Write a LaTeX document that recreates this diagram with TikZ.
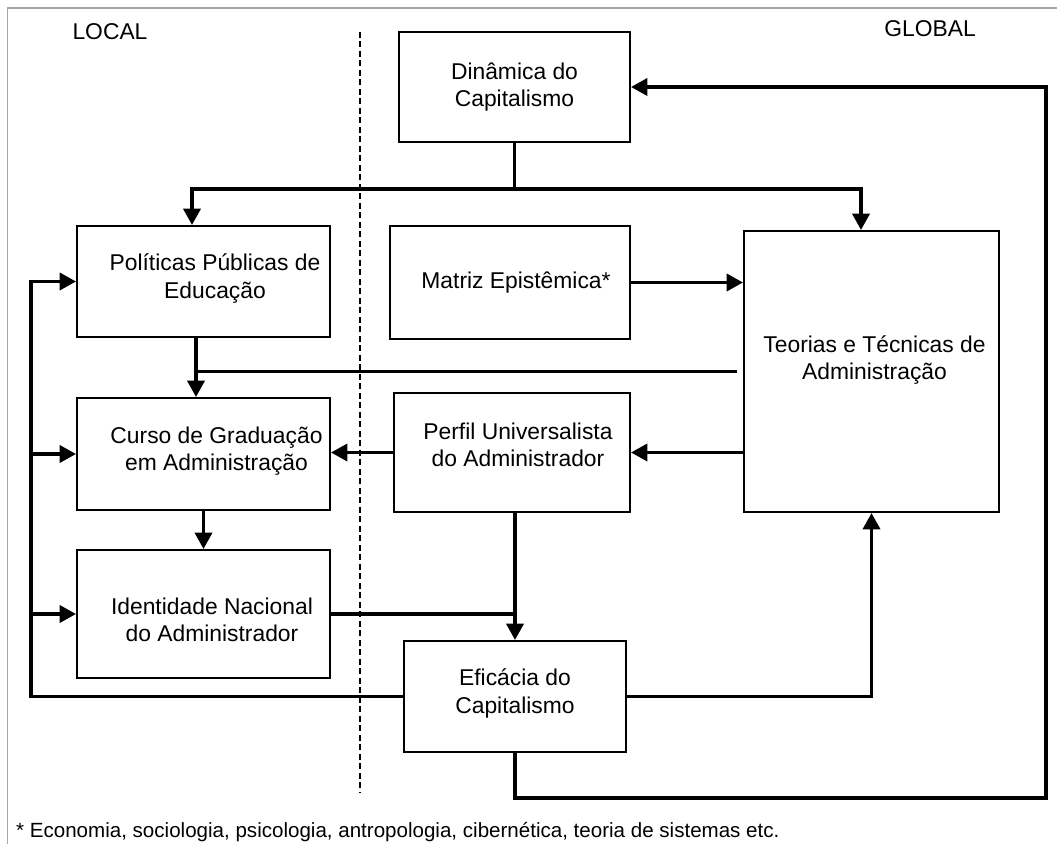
\documentclass[tikz,border=0pt]{standalone}
\usepackage{fontspec}
\setmainfont{Liberation Sans}
\usetikzlibrary{arrows.meta, positioning, calc}

\tikzset{
  %% -- boxes and their text --
  blk/box/.style={draw, line width=1.1pt, inner sep=0pt},
  blk/txt/.style={font=\fontsize{13pt}{15.5pt}\selectfont, align=center, inner sep=0pt},
  %% -- connectors --
  blk/arr/.style={-{Triangle[length=0.33cm, width=0.34cm]}, line width=2.2pt},
  blk/line/.style={line width=2.2pt},
  %% -- local / global divider --
  blk/div/.style={dash pattern=on 0.12cm off 0.07cm, line width=1.5pt},
  blk/frame/.style={draw=gray!70, line width=0.8pt},
  blk/side/.style={font=\fontsize{13pt}{15.5pt}\selectfont},
  blk/note/.style={font=\fontsize{11.7pt}{14pt}\selectfont, anchor=base west},
}

\begin{document}
\begin{tikzpicture}[x=0.02cm, y=-0.02cm]
\useasboundingbox (0,0) rectangle (1057,844);

%% Frame and sides
\draw[blk/frame] (7.5,844) -- (7.5,8) -- (1057,8);
\node[blk/side] (loc) at (110,31.5) {LOCAL};
\node[blk/side] (glo) at (930,28.5) {GLOBAL};
\coordinate (divtop) at (360,32);
\coordinate (divbot) at (360,792);
\draw[blk/div] (divtop) -- (divbot);

%% Boxes
\node[blk/box, minimum width=4.62cm, minimum height=2.2cm,
  label={[blk/txt]center:Dinâmica do\\Capitalismo}] (din) at (514.5,87) {};
\node[blk/box, minimum width=5.06cm, minimum height=2.22cm,
  label={[blk/txt, xshift=0.23cm, yshift=0.06cm]center:Políticas Públicas de\\Educação}] (pol) at (203.5,281.5) {};
\node[blk/box, minimum width=4.8cm, minimum height=2.26cm,
  label={[blk/txt, xshift=0.12cm]center:Matriz Epistêmica*}] (mat) at (510,282.5) {};
\node[blk/box, minimum width=5.1cm, minimum height=5.62cm,
  label={[blk/txt, xshift=0.06cm, yshift=0.23cm]center:Teorias e Técnicas de\\Administração}] (teo) at (871.5,371.5) {};
\node[blk/box, minimum width=5.06cm, minimum height=2.24cm,
  label={[blk/txt, xshift=0.26cm, yshift=0.05cm]center:Curso de Graduação\\em Administração}] (cur) at (203.5,454) {};
\node[blk/box, minimum width=4.72cm, minimum height=2.38cm,
  label={[blk/txt, xshift=0.12cm, yshift=0.15cm]center:Perfil Universalista\\do Administrador}] (per) at (512,452.5) {};
\node[blk/box, minimum width=5.06cm, minimum height=2.56cm,
  label={[blk/txt, xshift=0.17cm, yshift=-0.12cm]center:Identidade Nacional\\do Administrador}] (ide) at (203.5,614) {};
\node[blk/box, minimum width=4.44cm, minimum height=2.22cm,
  label={[blk/txt, yshift=0.06cm]center:Eficácia do\\Capitalismo}] (efi) at (515,696.5) {};

%% Junctions
\coordinate (jtop) at (514.5,189);
\coordinate (busx) at (31,697);
\coordinate (loopx) at (1046,798);
\coordinate (polx) at ([xshift=-0.15cm]pol.south);

%% Dinamica -> Politicas, Teorias
\draw[blk/line] (din.south) -- (jtop);
\draw[blk/arr] (jtop) -| ([xshift=-0.23cm]pol.north);
\draw[blk/arr] (jtop) -| ([xshift=-0.21cm]teo.north);

%% Matriz -> Teorias
\draw[blk/arr] (mat.east) -- (mat.east -| teo.west);

%% Politicas, Teorias -> Curso
\draw[blk/arr] (polx) -- (polx |- cur.north);
\draw[blk/line] ([xshift=-0.12cm]teo.west) -- (teo.west -| polx);

%% Teorias -> Perfil -> Curso -> Identidade
\draw[blk/arr] (per.east -| teo.west) -- (per.east);
\draw[blk/arr] (per.west) -- (per.west -| cur.east);
\draw[blk/arr] (cur.south) -- (ide.north);

%% Perfil, Identidade -> Eficacia
\draw[blk/arr] (efi.north |- per.south) -- (efi.north);
\draw[blk/line] (ide.east) -- (ide.east -| efi.north);

%% Eficacia -> Teorias, Dinamica
\draw[blk/arr] (efi.east) -| (teo.south);
\draw[blk/arr] (efi.south) |- (loopx) |- (din.east);

%% Eficacia -> local boxes (left bus)
\draw[blk/arr] (efi.west) -| (busx |- pol.west) -- (pol.west);
\draw[blk/arr] (busx |- cur.west) -- (cur.west);
\draw[blk/arr] (busx |- ide.west) -- (ide.west);

%% Footnote
\node[blk/note] (nota) at (10,837)
  {* Economia, sociologia, psicologia, antropologia, cibernética, teoria de sistemas etc.};
\end{tikzpicture}
\end{document}
